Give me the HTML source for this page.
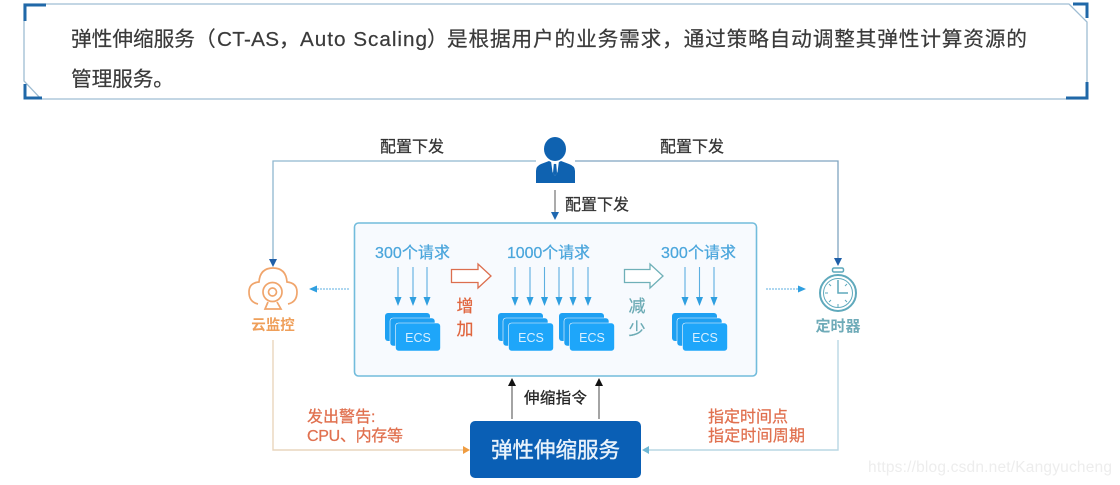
<!DOCTYPE html>
<html lang="zh">
<head>
<meta charset="utf-8">
<style>
html,body{margin:0;padding:0;background:#fff;width:1120px;height:485px;overflow:hidden}
svg{display:block;filter:blur(.35px)}
text{font-family:"Liberation Sans","Noto Sans CJK SC",sans-serif}
.t{font-size:20.700px;fill:#3a3a3a;stroke:#3a3a3a;stroke-width:.2px}
.s{stroke-width:.25px}
</style>
</head>
<body>
<svg width="1120" height="485" viewBox="0 0 1120 485" xmlns="http://www.w3.org/2000/svg">
<defs>
<g id="ecs">
<rect x="0" y="0" width="45" height="28" rx="3" fill="#1ea0f2"/>
<rect x="5" y="5" width="45" height="28" rx="3" fill="#1ea0f2" stroke="#f7fafe" stroke-width=".6"/>
<rect x="10.500" y="10" width="45" height="28" rx="3" fill="#1ea6fa" stroke="#f7fafe" stroke-width=".6"/>
<text x="33" y="29" font-size="12.500" fill="#d8efff" text-anchor="middle">ECS</text>
</g>
<g id="down">
<line x1="0" y1="0" x2="0" y2="31" stroke="#5dafe0" stroke-width="1.100"/>
<path d="M-3.500 30H3.500L0 39Z" fill="#2f9fe0"/>
</g>
</defs>

<!-- top frame -->
<path d="M25 4H1069L1087 22V99H41L24 81V4Z" fill="#fff" stroke="#9fbdd3" stroke-width="1.300"/>
<path d="M46 5H25V21" fill="none" stroke="#2068a8" stroke-width="3"/>
<path d="M25 84V98H42" fill="none" stroke="#2068a8" stroke-width="3"/>
<path d="M1073 4H1087V18" fill="none" stroke="#2068a8" stroke-width="3"/>
<path d="M1087 82V98H1066" fill="none" stroke="#2068a8" stroke-width="3"/>
<text class="t" x="71" y="46" textLength="124">弹性伸缩服务</text>
<text class="t" x="195" y="46">（</text>
<text class="t" x="217" y="46" textLength="62">CT-AS</text>
<text class="t" x="279" y="46">，</text>
<text class="t" x="300" y="46" textLength="127">Auto Scaling</text>
<text class="t" x="427" y="46">）</text>
<text class="t" x="447" y="46" textLength="580">是根据用户的业务需求，通过策略自动调整其弹性计算资源的</text>
<text class="t" x="71" y="86" textLength="103">管理服务。</text>

<!-- top connectors -->
<path d="M536 161H273V260" fill="none" stroke="#8fb6cf" stroke-width="1.300"/>
<path d="M269 259H277L273 267Z" fill="#1f5fa8"/>
<path d="M575 161H838V259" fill="none" stroke="#7fa5c0" stroke-width="1.300"/>
<path d="M834 258H842L838 266Z" fill="#1f5fa8"/>
<text class="s" x="380" y="152" font-size="16" fill="#333" stroke="#333">配置下发</text>
<text class="s" x="660" y="152" font-size="16" fill="#333" stroke="#333">配置下发</text>

<!-- person -->
<ellipse cx="555" cy="149" rx="11" ry="12" fill="#0f62b0"/>
<path d="M536 183V171Q536 166 541 164L549 161L555 164L561 161L569 164Q575 166 575 171V183Z" fill="#0f62b0"/>
<path d="M551 161L555 164L559 161L557.500 172L555 176L552.500 172Z" fill="#fff"/>
<path d="M553.800 164H556.200L557 173L555 176L553 173Z" fill="#0f62b0"/>
<line x1="555" y1="190" x2="555" y2="213" stroke="#666" stroke-width="1.100"/>
<path d="M551 212H559L555 220Z" fill="#1f68b0"/>
<text class="s" x="565" y="210" font-size="16" fill="#333" stroke="#333">配置下发</text>

<!-- main panel -->
<rect x="354.500" y="223" width="402" height="153" rx="4" fill="#f7fafe" stroke="#72bcdc" stroke-width="1.600"/>

<text class="s" x="375" y="258" font-size="16" fill="#4ba6dc" stroke="#4ba6dc" textLength="75">300个请求</text>
<text class="s" x="507" y="258" font-size="16" fill="#4ba6dc" stroke="#4ba6dc" textLength="83">1000个请求</text>
<text class="s" x="661" y="258" font-size="16" fill="#4ba6dc" stroke="#4ba6dc" textLength="75">300个请求</text>

<use href="#down" x="398" y="267"/>
<use href="#down" x="413" y="267"/>
<use href="#down" x="427" y="267"/>
<use href="#down" x="515" y="267"/>
<use href="#down" x="530" y="267"/>
<use href="#down" x="544.500" y="267"/>
<use href="#down" x="559" y="267"/>
<use href="#down" x="573" y="267"/>
<use href="#down" x="588" y="267"/>
<use href="#down" x="685" y="267"/>
<use href="#down" x="699.500" y="267"/>
<use href="#down" x="714" y="267"/>

<use href="#ecs" x="385" y="313"/>
<use href="#ecs" x="498" y="313"/>
<use href="#ecs" x="559" y="313"/>
<use href="#ecs" x="672" y="313"/>

<path d="M451.500 269.500H478V264L491 276L478 288V282.500H451.500Z" fill="#fff" stroke="#dc6e4e" stroke-width="1.300"/>
<path d="M624.500 269.500H650V264L663 276L650 288V282.500H624.500Z" fill="#fff" stroke="#6fb0b8" stroke-width="1.300"/>
<text class="s" x="465" y="312" font-size="17" fill="#e0663f" stroke="#e0663f" text-anchor="middle">增</text>
<text class="s" x="465" y="335" font-size="17" fill="#e0663f" stroke="#e0663f" text-anchor="middle">加</text>
<text class="s" x="637" y="312" font-size="17" fill="#6aaab4" stroke="#6aaab4" text-anchor="middle">减</text>
<text class="s" x="637" y="335" font-size="17" fill="#6aaab4" stroke="#6aaab4" text-anchor="middle">少</text>

<!-- side dotted arrows -->
<line x1="349" y1="289" x2="316" y2="289" stroke="#5dafe0" stroke-width="1" stroke-dasharray="2 1"/>
<path d="M309 289L317 285.500V292.500Z" fill="#2f9fe0"/>
<line x1="766" y1="289" x2="798" y2="289" stroke="#5dafe0" stroke-width="1" stroke-dasharray="2 1"/>
<path d="M806 289L798 285.500V292.500Z" fill="#2f9fe0"/>

<!-- cloud monitor -->
<g fill="none" stroke="#f0a56c" stroke-width="1.700">
<path d="M258 304Q249 302 249 292Q249 283 259 282Q260 268 273 268Q286 268 287 282Q297 283 297 292Q297 302 288 304"/>
<circle cx="272.500" cy="292" r="9.500"/>
<circle cx="272.500" cy="292" r="4"/>
<path d="M268 302L265 309H281L277 302"/>
</g>
<text x="273" y="330" font-size="14.500" font-weight="bold" fill="#ef9f5a" text-anchor="middle">云监控</text>

<!-- timer -->
<g fill="none" stroke="#5fa9bc" stroke-width="1.500">
<rect x="832.500" y="268" width="11" height="4" rx="1.500"/>
<circle cx="838" cy="293" r="18" stroke-width="2"/>
<circle cx="838" cy="293" r="14.500" stroke-width="1"/>
<path d="M838 280V293H848"/>
<path d="M838 304V307M825 293H828M829 284L831 286M847 284L845 286M829 302L831 300M847 302L845 300" stroke-width="1"/>
</g>
<text x="838" y="331" font-size="15" font-weight="bold" fill="#6fabb8" text-anchor="middle">定时器</text>

<!-- bottom connectors -->
<path d="M273 340V450H463" fill="none" stroke="#e9d5bd" stroke-width="1.400"/>
<path d="M463 446V454L470 450Z" fill="#ef9c40"/>
<path d="M838 340V450H649" fill="none" stroke="#b9d7e4" stroke-width="1.400"/>
<path d="M649 446V454L642 450Z" fill="#6fb7d3"/>
<text class="s" x="307" y="422" font-size="16" fill="#e0704f" stroke="#e0704f">发出警告:</text>
<text class="s" x="307" y="441" font-size="16" fill="#e0704f" stroke="#e0704f" textLength="96">CPU、内存等</text>
<text class="s" x="708" y="422" font-size="16" fill="#e0704f" stroke="#e0704f" textLength="80">指定时间点</text>
<text class="s" x="708" y="441" font-size="16" fill="#e0704f" stroke="#e0704f" textLength="97">指定时间周期</text>

<!-- scaling service -->
<rect x="470" y="421" width="171" height="57" rx="5" fill="#0a5fb5"/>
<text x="555.500" y="457.500" font-size="21.500" fill="#e8f2fb" stroke="#e8f2fb" stroke-width=".4" text-anchor="middle">弹性伸缩服务</text>
<line x1="512" y1="419" x2="512" y2="384" stroke="#666" stroke-width="1.200"/>
<path d="M508 386H516L512 378Z" fill="#111"/>
<line x1="599" y1="419" x2="599" y2="384" stroke="#666" stroke-width="1.200"/>
<path d="M595 386H603L599 378Z" fill="#111"/>
<text class="s" x="524" y="403" font-size="15.500" fill="#222" stroke="#222" textLength="63">伸缩指令</text>

<!-- watermark -->
<text x="868" y="472" font-size="15.500" fill="#ededed" textLength="244">https://blog.csdn.net/Kangyucheng</text>
</svg>
</body>
</html>
